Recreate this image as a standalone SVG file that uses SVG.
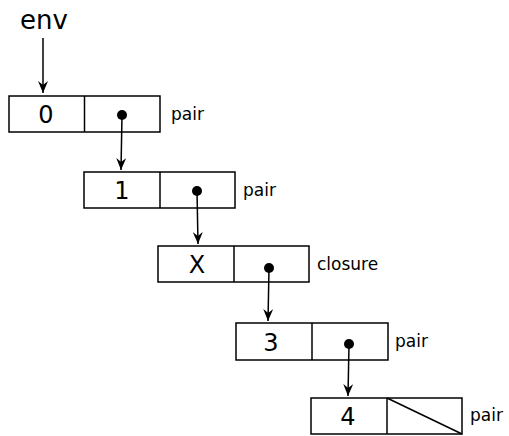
<svg xmlns="http://www.w3.org/2000/svg" width="509" height="436" viewBox="0 0 509 436">
<style>
.box{fill:#fff;stroke:#000;stroke-width:1.5}
.val{font-family:"DejaVu Sans",sans-serif;font-size:24px;text-anchor:middle}
.lbl{font-family:"DejaVu Sans",sans-serif;font-size:17px}
.con{stroke:#000;stroke-width:1.5;fill:none;marker-end:url(#ah)}
</style>
<defs>
<marker id="ah" markerWidth="12" markerHeight="10" refX="12" refY="5" orient="auto" markerUnits="userSpaceOnUse" viewBox="0 0 12 10">
<path d="M0,0 L12,5 L0,10 L4,5 Z" fill="#000"/>
</marker>
</defs>
<rect width="509" height="436" fill="#fff"/>
<g id="env"><text class="val" x="44" y="29" style="font-size:26px">env</text></g>
<g id="n0">
<rect class="box" x="9" y="96" width="151" height="36"/>
<line x1="84.5" y1="96" x2="84.5" y2="132" stroke="#000" stroke-width="1.5"/>
<text class="val" x="46" y="123">0</text>
<circle cx="122" cy="115" r="5"/>
<text class="lbl" x="171" y="120">pair</text>
</g>
<g id="n1">
<rect class="box" x="84" y="172" width="151" height="36"/>
<line x1="160" y1="172" x2="160" y2="208" stroke="#000" stroke-width="1.5"/>
<text class="val" x="122" y="199">1</text>
<circle cx="197" cy="191" r="5"/>
<text class="lbl" x="243" y="196">pair</text>
</g>
<g id="n2">
<rect class="box" x="158" y="246" width="151" height="36"/>
<line x1="234" y1="246" x2="234" y2="282" stroke="#000" stroke-width="1.5"/>
<text class="val" x="197" y="273">X</text>
<circle cx="269" cy="268" r="5"/>
<text class="lbl" x="317" y="270">closure</text>
</g>
<g id="n3">
<rect class="box" x="236" y="323" width="152" height="37"/>
<line x1="312" y1="323" x2="312" y2="360" stroke="#000" stroke-width="1.5"/>
<text class="val" x="271" y="351">3</text>
<circle cx="349" cy="344" r="5"/>
<text class="lbl" x="395" y="347">pair</text>
</g>
<g id="n4">
<rect class="box" x="311" y="398" width="151" height="36"/>
<line x1="387" y1="398" x2="387" y2="434" stroke="#000" stroke-width="1.5"/>
<line x1="387" y1="398" x2="462" y2="434" stroke="#000" stroke-width="1.5"/>
<text class="val" x="348" y="425">4</text>
<text class="lbl" x="470" y="421">pair</text>
</g>
<g id="connectors">
<line class="con" x1="43" y1="38" x2="43" y2="93"/>
<line class="con" x1="122" y1="115" x2="121" y2="170"/>
<line class="con" x1="197" y1="191" x2="198" y2="244"/>
<line class="con" x1="269" y1="268" x2="268" y2="321"/>
<line class="con" x1="349" y1="344" x2="348" y2="396"/>
</g>
</svg>
